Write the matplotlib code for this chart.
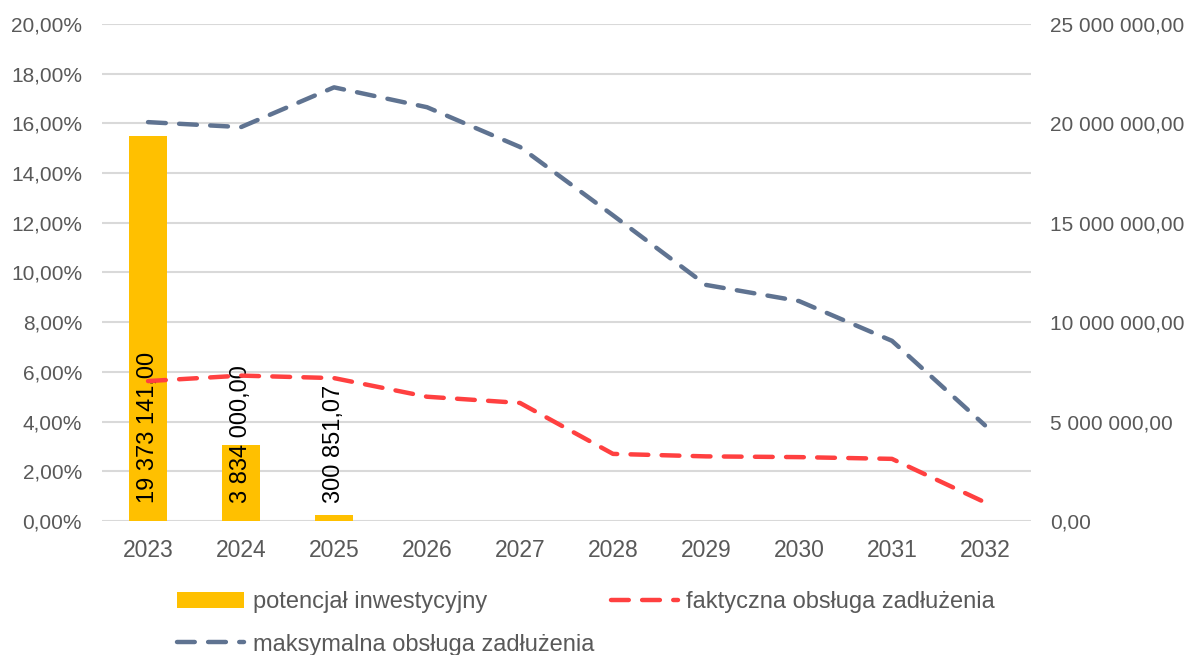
import matplotlib.pyplot as plt
import numpy as np

plt.rcParams['font.family'] = ['Liberation Sans', 'DejaVu Sans']

# dane
lata = ['2023', '2024', '2025', '2026', '2027', '2028', '2029', '2030', '2031', '2032']
potencjal = [19373141.00, 3834000.00, 300851.07, 0, 0, 0, 0, 0, 0, 0]
etykiety = ['19 373 141,00', '3 834 000,00', '300 851,07']
maksymalna = [16.05, 15.85, 17.45, 16.65, 15.05, 12.3, 9.5, 8.85, 7.25, 3.85]
faktyczna = [5.63, 5.85, 5.75, 5.0, 4.75, 2.7, 2.6, 2.57, 2.5, 0.75]

szary = '#595959'

fig = plt.figure(figsize=(11.89, 6.55), dpi=100)
ax = fig.add_axes([0.0854, 0.2046, 0.7821, 0.7588])
ax2 = ax.twinx()

x = np.arange(len(lata))

# slupki na prawej osi
slupki = ax2.bar(x, potencjal, width=0.4, color='#FFC000', zorder=2,
                 label='potencjał inwestycyjny')
for i, t in enumerate(etykiety):
    ax2.annotate(t, (x[i], 0), xytext=(0, 13), textcoords='offset points',
                 rotation=90, ha='center', va='bottom', fontsize=17, color='black')

# linie na lewej osi
l_max, = ax.plot(x, maksymalna, color='#5F7391', lw=3.2, dashes=(4, 3),
                 dash_capstyle='round', zorder=3, label='maksymalna obsługa zadłużenia')
l_fakt, = ax.plot(x, faktyczna, color='#FF4040', lw=3.2, dashes=(4, 3),
                  dash_capstyle='round', zorder=3, label='faktyczna obsługa zadłużenia')

ax.set_zorder(ax2.get_zorder() + 1)
ax.patch.set_visible(False)

ax.set_xlim(-0.5, 9.5)
ax.set_ylim(0, 20)
ax2.set_ylim(0, 25000000)

ax.set_yticks(np.arange(0, 21, 2))
ax.set_yticklabels([f'{v:.2f}%'.replace('.', ',') for v in np.arange(0, 21, 2)])
ax2.set_yticks(np.arange(0, 25000001, 5000000))
ax2.set_yticklabels([f'{v:,.2f}'.replace(',', ' ').replace('.', ',') for v in np.arange(0, 25000001, 5000000)])
ax.set_xticks(x)
ax.set_xticklabels(lata)

for a in (ax, ax2):
    for s in a.spines.values():
        s.set_visible(False)
    a.tick_params(length=0, labelsize=15, labelcolor=szary)
ax.tick_params(axis='y', pad=14)
ax2.tick_params(axis='y', pad=13.5)
ax.tick_params(axis='x', pad=13, labelsize=16.5)

# siatka rysowana pod slupkami
for v in np.arange(0, 21, 2):
    ax2.axhline(v * 1250000, color='#D9D9D9', lw=1.5, zorder=0)

leg = fig.legend([slupki, l_max, l_fakt],
                 ['potencjał inwestycyjny', 'maksymalna obsługa zadłużenia',
                  'faktyczna obsługa zadłużenia'],
                 ncol=2, loc='upper left', bbox_to_anchor=(0.149, 0.097),
                 borderaxespad=0, borderpad=0,
                 frameon=False, fontsize=17, handlelength=2.85, columnspacing=0.7,
                 labelspacing=0.85, handletextpad=0.35)
for t in leg.get_texts():
    t.set_color(szary)

fig.savefig('out.png', dpi=100)
